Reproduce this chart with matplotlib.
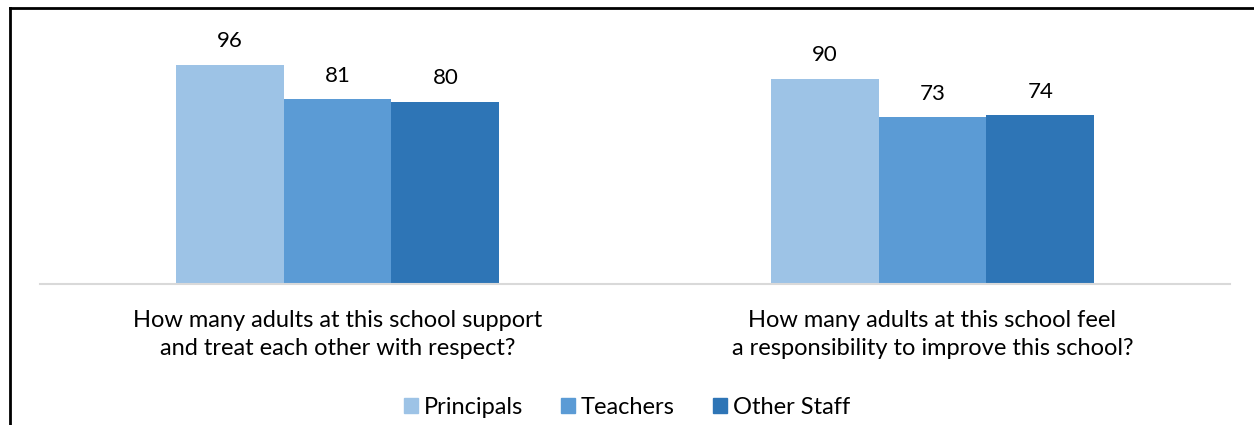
import numpy as np
import matplotlib.pyplot as plt
from matplotlib.lines import Line2D
from matplotlib.patches import Patch

categories = ['How many adults at this school support\nand treat each other with respect?',
              'How many adults at this school feel\na responsibility to improve this school?']
series = ['Principals', 'Teachers', 'Other Staff']
principals = [96, 90]
teachers = [81, 73]
other_staff = [80, 74]
colors = ['#9DC3E6', '#5B9BD5', '#2E75B6']

plt.rcParams['font.family'] = ['Lato', 'DejaVu Sans']

W, H = 1254, 425
fig = plt.figure(figsize=(W / 100, H / 100), dpi=100)
# axes placed in pixel coordinates
ax = fig.add_axes([40 / W, 1 - 284 / H, 1190 / W, 276 / H])

x = np.arange(len(categories))
width = 0.1815
for k, (vals, c) in enumerate(zip([principals, teachers, other_staff], colors)):
    pos = x + (k - 1) * width
    ax.bar(pos, vals, width, color=c, label=series[k])
    for p, v in zip(pos, vals):
        ax.text(p, v + 6, '%d' % v, ha='center', va='bottom', fontsize=16, color='black')

ax.set_xlim(-0.5, 1.5)
ax.set_ylim(0, 121)
ax.set_yticks([])
ax.set_xticks(x)
ax.set_xticklabels(categories, fontsize=17, linespacing=1.38)
ax.tick_params(axis='x', length=0, pad=19)
for s in ['top', 'left', 'right']:
    ax.spines[s].set_visible(False)
ax.spines['bottom'].set_color('#D9D9D9')
ax.spines['bottom'].set_linewidth(1.5)

handles = [Patch(color=c) for c in colors]
fig.legend(handles, series, loc='center', bbox_to_anchor=(0.5, 1 - 407 / H), ncol=3,
           frameon=False, fontsize=17, handlelength=0.6, handleheight=0.6,
           handletextpad=0.25, columnspacing=1.6)

# outer frame: left and top lines
fig.add_artist(Line2D([10 / W, 10 / W], [0, 1 - 8 / H], color='black', lw=2, transform=fig.transFigure))
fig.add_artist(Line2D([10 / W, 1], [1 - 8 / H, 1 - 8 / H], color='black', lw=2, transform=fig.transFigure))

fig.savefig('out.png', dpi=100)
